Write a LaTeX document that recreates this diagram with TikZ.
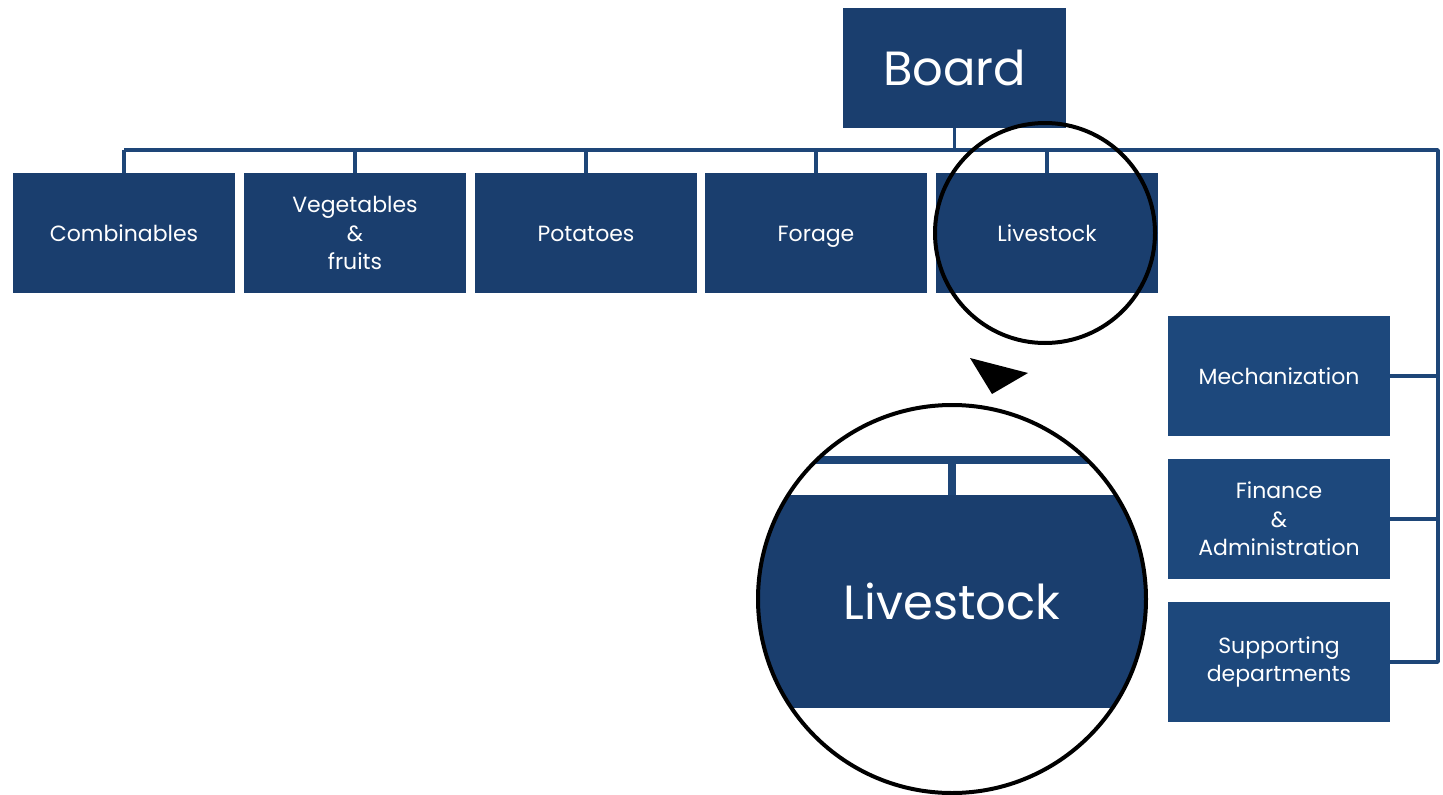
\documentclass[tikz,border=0pt]{standalone}
\usepackage{fontspec}
\setmainfont{Poppins}
\begin{document}
\begin{tikzpicture}[x=1pt,y=-1pt,
  box/.style={fill=boxblue, draw=none, minimum width=222pt, minimum height=120pt, inner sep=0pt,
    text=white, align=center, font=\fontsize{22}{28.5}\selectfont},
  one/.style={text height=17.4pt, text depth=0pt},
  rbox/.style={box, fill=rboxblue},
  conn/.style={draw=lineblue, line width=3.5pt},
  lens/.style={draw=black, line width=4pt}]
\definecolor{boxblue}{RGB}{26,62,110}
\definecolor{rboxblue}{RGB}{29,72,124}
\definecolor{lineblue}{RGB}{30,70,120}
\useasboundingbox (0,0) rectangle (1443,795);
% nodes
\node[box, minimum width=223pt, font=\fontsize{48}{56}\selectfont] (board) at (954.5,68) {Board};
\node[box, one] (comb) at (124,233) {Combinables};
\node[box] (veg) at (355,233) {Vegetables\\\&\\fruits};
\node[box, one] (pot) at (586,233) {Potatoes};
\node[box, one] (forage) at (816,233) {Forage};
\node[box, one] (live) at (1047,233) {Livestock};
\node[rbox, one] (mech) at (1279,376) {Mechanization};
\node[rbox] (fin) at (1279,519) {Finance\\\&\\Administration};
\node[rbox] (sup) at (1279,662) {Supporting\\departments};
\coordinate (busL) at (124,150);
\coordinate (busR) at (1438,150);
% connectors
\draw[conn] (board.south) -- (board.south |- busL);
\draw[conn, line join=round] (busL) -- (busR) -- (busR |- sup.east) -- (sup.east);
\foreach \n in {comb,veg,pot,forage,live}{\draw[conn] (\n.north) -- (\n.north |- busL);}
\draw[conn] (mech.east) -- (mech.east -| busR);
\draw[conn] (fin.east) -- (fin.east -| busR);
% small lens
\coordinate (lensA) at (1045,233);
\draw[lens] (lensA) circle[radius=110];
% arrow
\fill[black] (970,358) -- (1028,373) -- (992,394) -- cycle;
% magnified lens
\coordinate (lensB) at (952,599);
\begin{scope}
\clip (lensB) circle[radius=194];
\fill[white] (lensB) circle[radius=194];
\node[box, minimum width=500pt, minimum height=213pt, font=\fontsize{48}{56}\selectfont] (bigl) at (952,601.5) {Livestock};
\coordinate (bigbus) at (700,460);
\coordinate (bigbusR) at (1200,460);
\draw[draw=lineblue, line width=8pt] (bigbus) -- (bigbusR);
\draw[draw=lineblue, line width=8pt] (bigl.north) -- (bigl.north |- bigbus);
\end{scope}
\draw[lens] (lensB) circle[radius=194];
\end{tikzpicture}
\end{document}
